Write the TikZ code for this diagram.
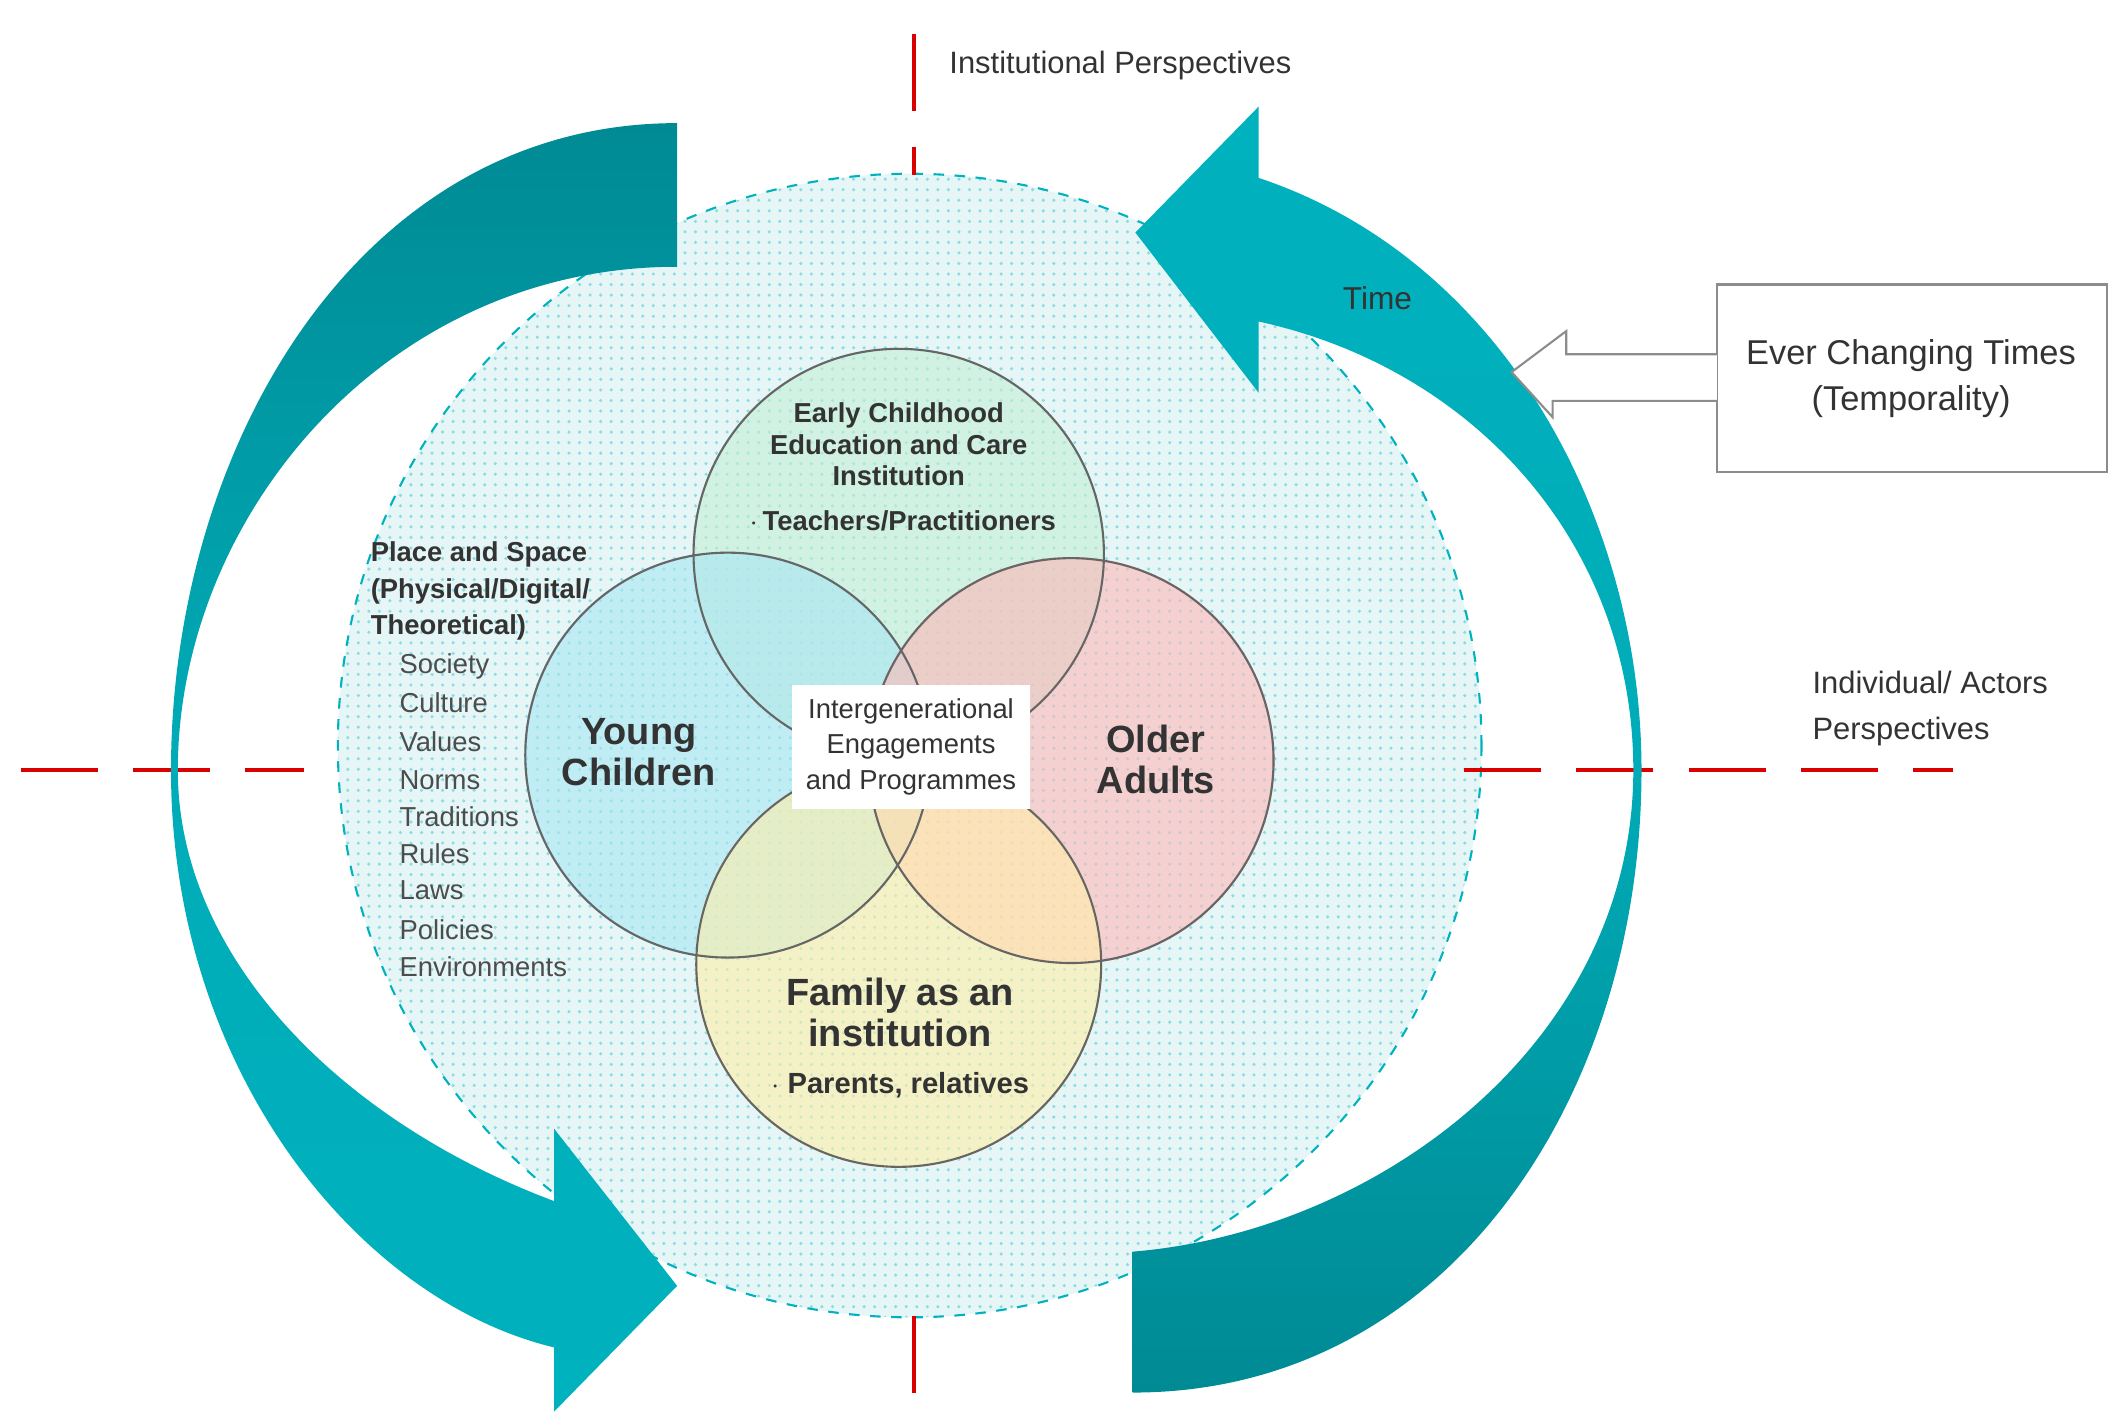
\documentclass[tikz,border=0pt]{standalone}
\usepackage{fontspec}
\setmainfont{Liberation Sans}
\usetikzlibrary{patterns}
\definecolor{tealD}{HTML}{008A94}
\definecolor{tealL}{HTML}{00B2BE}
\definecolor{cgreen}{HTML}{C4EED6}
\definecolor{cblue}{HTML}{A8E6F4}
\definecolor{cpink}{HTML}{FFB8B8}
\definecolor{cyel}{HTML}{FFEFA8}
\definecolor{bg}{HTML}{E6F6F6}
\definecolor{txt}{HTML}{333333}
\begin{document}
\begin{tikzpicture}[x=0.01368cm,y=-0.01368cm,
  redl/.style={red!85!black,dash pattern=on 22pt off 10pt,line width=1.3pt},
  venn/.style={draw=black!60,line width=0.6pt,fill opacity=0.6},
  bt/.style={font=\bfseries\fontsize{7.8}{9}\selectfont,align=center,text=txt},
  big/.style={font=\bfseries\fontsize{10.8}{11.8}\selectfont,align=center,text=txt},
  lt/.style={font=\fontsize{7.8}{9}\selectfont,anchor=west,text=txt}]
\useasboundingbox (0,0) rectangle (1552,1040);
% big circle
\fill[bg] (665,545) circle [radius=418];
\fill[pattern=dots,pattern color=tealL!45] (665,545) circle [radius=418];
\draw[tealL,dashed,line width=0.6pt] (665,545) circle [radius=418];
% red axes
\coordinate (v1) at (668,25); \coordinate (v2) at (668,128);
\coordinate (v3) at (668,962); \coordinate (v4) at (668,1030);
\coordinate (h1) at (15,563); \coordinate (h2) at (222,563);
\coordinate (h3) at (1070,563); \coordinate (h4) at (1428,563);
\draw[redl] (v1)--(v2); \draw[redl] (v3)--(v4);
\draw[redl] (h1)--(h2); \draw[redl] (h3)--(h4);
% left arrow
\shade[top color=tealD,bottom color=tealL,middle color=tealL!85!tealD]
 (495,90) .. controls (260,90) and (125,330) .. (125,563)
 .. controls (125,780) and (260,950) .. (405,985)
 -- (405,1032) -- (495,940) -- (405,825) -- (405,878)
 .. controls (250,820) and (130,700) .. (130,563)
 .. controls (130,380) and (280,195) .. (495,195) -- cycle;
% right arrow
\shade[top color=tealL,bottom color=tealD,middle color=tealL!85!tealD]
 (828,915) .. controls (1010,900) and (1194,760) .. (1194,563)
 .. controls (1194,400) and (1080,270) .. (920,235)
 -- (920,287) -- (830,170) -- (920,78) -- (920,130)
 .. controls (1100,190) and (1200,380) .. (1200,563)
 .. controls (1200,800) and (1060,1018) .. (828,1018) -- cycle;
\node[font=\fontsize{9}{11}\selectfont,text=txt] (time) at (1007,218) {Time};
% venn circles
\fill[venn,cgreen] (657,405) circle [radius=150];
\fill[venn,cblue] (532,552) circle [radius=148];
\fill[venn,cpink] (783,556) circle [radius=148];
\fill[venn,cyel] (657,705) circle [radius=148];
\draw[black!60,line width=0.6pt] (657,405) circle [radius=150] (532,552) circle [radius=148]
 (783,556) circle [radius=148] (657,705) circle [radius=148];
% texts
\node[bt] (ecec) at (657,325) {Early Childhood\\Education and Care\\Institution};
\node[bt] (teach) at (660,381) {$\cdot$\,Teachers/Practitioners};
\node[big] (yc) at (467,550) {Young\\Children};
\node[big] (oa) at (845,555) {Older\\Adults};
\node[big] (fam) at (658,740) {Family as an\\institution};
\node[bt,font=\bfseries\fontsize{8.3}{10}\selectfont] (par) at (658,793) {$\cdot$ Parents, relatives};
\node[fill=white,bt,font=\fontsize{7.8}{10}\selectfont,inner sep=4pt] (ie) at (666,546) {Intergenerational\\Engagements\\and Programmes};
% left list
\node[lt,font=\bfseries\fontsize{7.8}{10.5}\selectfont,align=left] (ps) at (262,432) {Place and Space\\(Physical/Digital/\\Theoretical)};
\foreach \t/\yy [count=\i] in {Society/487,Culture/514,Values/542,Norms/570,Traditions/597,Rules/624,Laws/651,Policies/680,Environments/707}
  \node[lt,text=black!70] (l\i) at (283,\yy) {\t};
% labels
\node[lt,font=\fontsize{8.8}{11}\selectfont] (inst) at (685,48) {Institutional Perspectives};
\node[lt,font=\fontsize{8.8}{13}\selectfont,align=left] (ind) at (1316,518) {Individual/ Actors\\Perspectives};
% callout box
\coordinate (b1) at (1255,208); \coordinate (b2) at (1540,345);
\draw[black!45,line width=0.6pt] (b1) rectangle (b2);
\node[font=\fontsize{9.8}{13}\selectfont,align=center,text=txt] (ect) at (1397,277) {Ever Changing Times\\(Temporality)};
\draw[black!45,fill=white,line width=0.6pt] (1255,259) -- (1145,259) -- (1145,242) -- (1105,272) -- (1135,305) -- (1135,293) -- (1255,293);
\end{tikzpicture}
\end{document}
